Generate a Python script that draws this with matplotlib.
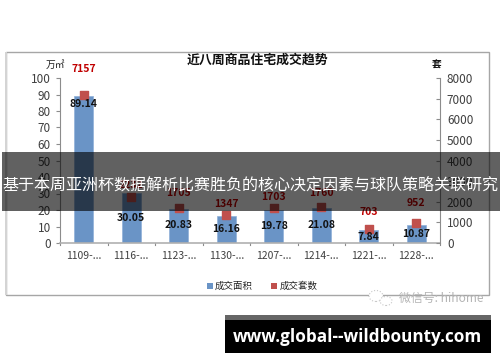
import matplotlib
matplotlib.use('Agg')
import matplotlib.pyplot as plt
from matplotlib.patches import Rectangle, Ellipse

plt.rcParams['font.family'] = ['Noto Sans CJK SC', 'DejaVu Sans']

# -------------------- DATA --------------------
weeks = ['1109-...', '1116-...', '1123-...', '1130-...', '1207-...', '1214-...', '1221-...', '1228-...']
area = [89.14, 30.05, 20.83, 16.16, 19.78, 21.08, 7.84, 10.87]
units = [7157, 2232, 1705, 1347, 1703, 1760, 703, 952]
unit_labels = ['7157', '2232', '1705', '1347', '1703', '1760', '703', '952']
left_ticks = [0, 10, 20, 30, 40, 50, 60, 70, 80, 90, 100]
right_ticks = [0, 1000, 2000, 3000, 4000, 5000, 6000, 7000, 8000]

W, H = 500, 362
BLUE = '#6a94c6'
RED = '#c0504d'
GREY = '#8c8c8c'


def box(x0, y0, x1, y1):
    # pixel box (top-left origin) to figure fractions
    return [x0 / W, 1 - y1 / H, (x1 - x0) / W, (y1 - y0) / H]


fig = plt.figure(figsize=(5, 3.62), dpi=100, facecolor='white')

# chart frame, kept behind the axes
fig.add_artist(Rectangle((6 / W, 1 - 295 / H), 483 / W, 243.5 / H, transform=fig.transFigure,
                         fc='white', ec='#a6a6a6', lw=1, zorder=-2))
fig.add_artist(Rectangle((4.5 / W, 1 - 295 / H), 2.5 / W, 243.5 / H, transform=fig.transFigure,
                         fc='#d4d4d4', ec='none', zorder=-1))

ax = fig.add_axes(box(60, 78, 440, 243))
ax.set_facecolor('none')
x = list(range(len(weeks)))
ax.bar(x, area, width=0.4, color=BLUE, edgecolor='#8fb0d8', lw=0.5)
ax.set_xlim(-0.5, 7.5)
ax.set_ylim(0, 100)
ax.set_yticks(left_ticks)
ax.set_xticks(x)
ax.set_xticklabels(weeks)
ax.tick_params(axis='y', labelsize=8.5, colors='#404040', length=3, direction='out', pad=3.5, color=GREY)
ax.tick_params(axis='x', labelsize=7.5, colors='#404040', length=0, pad=6)
for s in ['top', 'right']:
    ax.spines[s].set_visible(False)
ax.spines['left'].set_color(GREY)
ax.spines['bottom'].set_color('#b0b0b0')
ax.spines['bottom'].set_linewidth(1.2)
# category separators on the x axis
for i in range(len(weeks) + 1):
    ax.plot([i - 0.5, i - 0.5], [0, -1], color=GREY, lw=0.8, clip_on=False)

ax2 = ax.twinx()
ax2.set_facecolor('none')
ax2.scatter(x, units, marker='s', s=30, color=RED, zorder=3, clip_on=False)
ax2.set_ylim(0, 8000)
ax2.set_yticks(right_ticks)
ax2.tick_params(axis='y', labelsize=8.5, colors='#404040', length=3, direction='in', pad=5, color=GREY)
for s in ['top', 'left', 'bottom']:
    ax2.spines[s].set_visible(False)
ax2.spines['right'].set_color(GREY)

# label distances in pixels, measured per point in the reference
area_off = [8, 25, 16, 13, 16, 17, 7, 9]
unit_off = [26, 12, 15, 11, 11, 14, 17, 20]
for i, v in enumerate(area):
    ax2.annotate(f'{v:.2f}', (i, v * 80), xytext=(0, -area_off[i] * 0.72), textcoords='offset points', ha='center',
                 va='center', fontsize=7.5, fontweight='bold', color='#111111', zorder=5)
for i, lab in enumerate(unit_labels):
    ax2.annotate(lab, (i, units[i]), xytext=(0, unit_off[i] * 0.72), textcoords='offset points', ha='center',
                 va='center', fontsize=7.5, fontweight='bold', color='#c00000', zorder=5)

# title and units
fig.text(257 / W, 1 - 60 / H, '近八周商品住宅成交趋势', fontsize=9.3, fontweight='bold', ha='center', va='center', color='#111111')
fig.text(55 / W, 1 - 65 / H, '万㎡', fontsize=7, style='italic', ha='center', va='center', color='#222222')
fig.text(437 / W, 1 - 65 / H, '套', fontsize=7, fontweight='bold', ha='center', va='center', color='#111111')

# legend
fig.add_artist(Rectangle((207 / W, 1 - 289 / H), 5.5 / W, 6 / H, transform=fig.transFigure, fc=BLUE, ec='none'))
fig.text(215 / W, 1 - 286 / H, '成交面积', fontsize=6.8, ha='left', va='center', color='#222222')
fig.add_artist(Rectangle((271 / W, 1 - 289 / H), 6 / W, 6 / H, transform=fig.transFigure, fc=RED, ec='none'))
fig.text(280 / W, 1 - 286 / H, '成交套数', fontsize=6.8, ha='left', va='center', color='#222222')

# overlay banner
fig.add_artist(Rectangle((2 / W, 1 - 211 / H), 498 / W, 59 / H, transform=fig.transFigure,
                         fc='black', alpha=0.62, ec='none', zorder=10))
fig.text(250.5 / W, 1 - 185 / H, '基于本周亚洲杯数据解析比赛胜负的核心决定因素与球队策略关联研究',
         fontsize=11.55, color='white', fontweight='medium', ha='center', va='center', zorder=11)

# watermark
fig.add_artist(Ellipse((376 / W, 1 - 296 / H), 14 / W, 11 / H, transform=fig.transFigure,
                       fc='white', ec='#c8c8c8', lw=0.8, ls=':', zorder=11))
fig.add_artist(Ellipse((386 / W, 1 - 301 / H), 12 / W, 9 / H, transform=fig.transFigure,
                       fc='white', ec='#c8c8c8', lw=0.8, ls=':', zorder=11))
fig.text(441 / W, 1 - 298 / H, '微信号: hihome', fontsize=8.6, color='#b5b5b5', ha='center', va='center', zorder=11)

# site bar
fig.add_artist(Rectangle((225 / W, 1 - 353 / H), 266 / W, 33 / H, transform=fig.transFigure, fc='black', ec='none', zorder=10))
fig.add_artist(Rectangle((225 / W, 1 - 320 / H), 266 / W, 5 / H, transform=fig.transFigure, fc='#666666', ec='none', zorder=10))
fig.text(357 / W, 1 - 336.5 / H, 'www.global--wildbounty.com', fontsize=12.3, fontweight='bold', color='white',
         family=['Open Sans', 'DejaVu Sans'], ha='center', va='center', zorder=11)

fig.savefig('out.png', dpi=100)
